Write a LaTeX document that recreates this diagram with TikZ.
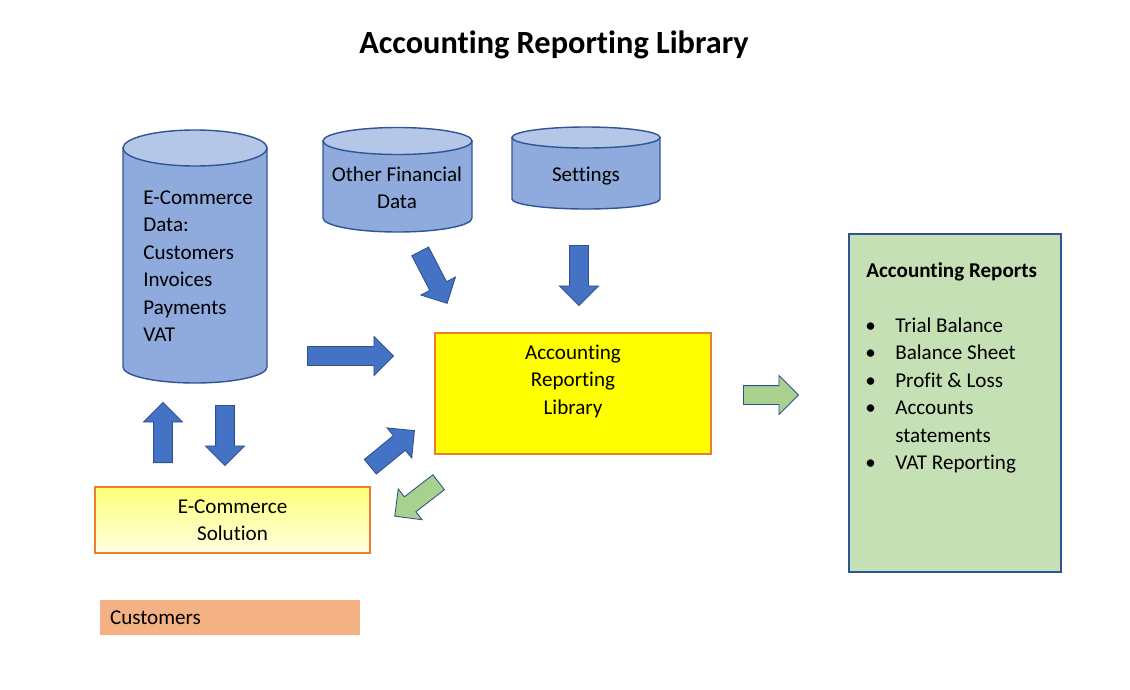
\documentclass[tikz,border=0pt]{standalone}
\usepackage{fontspec}
\setmainfont{Carlito}[RawFeature={-liga;-clig;-dlig}]
\usepackage{tikz}
\usetikzlibrary{shapes.arrows, positioning}
\definecolor{cylfill}{RGB}{143,170,220}
\definecolor{cyltop}{RGB}{180,199,231}
\definecolor{cylline}{RGB}{47,85,151}
\definecolor{arrblue}{RGB}{68,114,196}
\definecolor{arrline}{RGB}{47,82,143}
\definecolor{arrgreen}{RGB}{169,209,142}
\definecolor{libyellow}{RGB}{255,255,0}
\definecolor{boxorange}{RGB}{237,125,49}
\definecolor{soltop}{RGB}{255,255,120}
\definecolor{solbot}{RGB}{255,255,225}
\definecolor{custfill}{RGB}{244,177,131}
\definecolor{repfill}{RGB}{197,224,180}
\definecolor{repline}{RGB}{47,85,151}
\newcommand{\repitem}{\makebox[0.58cm][l]{\hspace{-0.02cm}\textbullet}}
\tikzset{
  bodytext/.style={font=\fontsize{12}{15.65}\selectfont, inner sep=0pt},
  dbbody/.style={fill=cylfill, draw=cylline, line width=0.8pt},
  dbtop/.style={fill=cyltop, draw=cylline, line width=0.8pt},
  blkarrow/.style={single arrow, fill=arrblue, draw=arrline, line width=0.5pt,
    inner xsep=0pt, inner ysep=0.18cm, single arrow head extend=0.2cm, anchor=tail},
  grnarrow/.style={blkarrow, fill=arrgreen},
  libbox/.style={rectangle, fill=libyellow, draw=boxorange, line width=1pt},
  solbox/.style={rectangle, top color=soltop, bottom color=solbot, draw=boxorange,
    line width=1pt, align=center, font=\fontsize{12}{15.65}\selectfont},
  custbox/.style={rectangle, fill=custfill, inner xsep=0.2cm, align=left,
    font=\fontsize{12}{15.65}\selectfont},
  repbox/.style={rectangle, fill=repfill, draw=repline, line width=0.8pt}
}
\begin{document}
\begin{tikzpicture}[x=0.02cm, y=0.02cm]
  \useasboundingbox (0,0) rectangle (1130,-690);
  \node[font=\bfseries\fontsize{18.4}{22}\selectfont] (ttl) at (554,-45) {Accounting Reporting Library};

  % Data stores
  \draw[dbbody] (123,-148) -- (123,-367) arc[start angle=180, end angle=360, x radius=72, y radius=16] -- (267,-148) -- cycle;
  \draw[dbtop] (195,-148) ellipse[x radius=72, y radius=18];
  \node[bodytext, anchor=west, align=left] (ecdata) at (143,-266) {E-Commerce\\Data:\\Customers\\Invoices\\Payments\\VAT};

  \draw[dbbody] (323,-141) -- (323,-218) arc[start angle=180, end angle=360, x radius=74.5, y radius=14] -- (472,-141) -- cycle;
  \draw[dbtop] (397.5,-141) ellipse[x radius=74.5, y radius=13.5];
  \node[bodytext, align=center] (otherfin) at (397,-188) {Other Financial\\Data};

  \draw[dbbody] (512,-137.5) -- (512,-199) arc[start angle=180, end angle=360, x radius=74, y radius=10] -- (660,-137.5) -- cycle;
  \draw[dbtop] (586,-137.5) ellipse[x radius=74, y radius=10.5];
  \node[bodytext] (settings) at (586,-176) {Settings};

  % Library
  \node[libbox, minimum width=5.52cm, minimum height=2.42cm] (lib) at (573,-393.5) {};
  \node[bodytext, align=center] (libtxt) at (573,-381) {Accounting\\Reporting\\Library};

  % E-Commerce side
  \node[solbox, minimum width=5.5cm, minimum height=1.32cm] (sol) at (232.5,-520) {E-Commerce\\Solution};
  \node[custbox, minimum width=5.2cm, minimum height=0.7cm, text width=4.8cm] (cust) at (230,-617.5) {Customers};

  % Reports
  \node[repbox, minimum width=4.24cm, minimum height=6.76cm] (rep) at (955,-403) {};
  \node[bodytext, anchor=north west, align=left] (replist) at (866,-262) {%
    \textbf{Accounting Reports}\\[15.65pt]
    \repitem Trial Balance\\
    \repitem Balance Sheet\\
    \repitem Profit \& Loss\\
    \repitem Accounts\\
    \hspace*{0.58cm}statements\\
    \repitem VAT Reporting};

  % Block arrows
  \node[blkarrow, minimum height=1.72cm] (ecToLib) at (307,-356) {};
  \node[blkarrow, rotate=-90, minimum height=1.2cm] (setToLib) at (579,-245) {};
  \node[blkarrow, rotate=-62.6, minimum height=1.17cm] (finToLib) at (420,-251) {};
  \node[blkarrow, rotate=39.3, minimum height=1.14cm] (solToLib) at (370,-467) {};
  \node[grnarrow, rotate=217.7, minimum height=1.11cm] (libToSol) at (439,-482) {};
  \node[blkarrow, rotate=90, minimum height=1.2cm] (solToDb) at (163,-463) {};
  \node[blkarrow, rotate=-90, minimum height=1.2cm] (dbToSol) at (225,-405) {};
  \node[grnarrow, minimum height=1.1cm] (libToRep) at (743,-395) {};
\end{tikzpicture}
\end{document}
